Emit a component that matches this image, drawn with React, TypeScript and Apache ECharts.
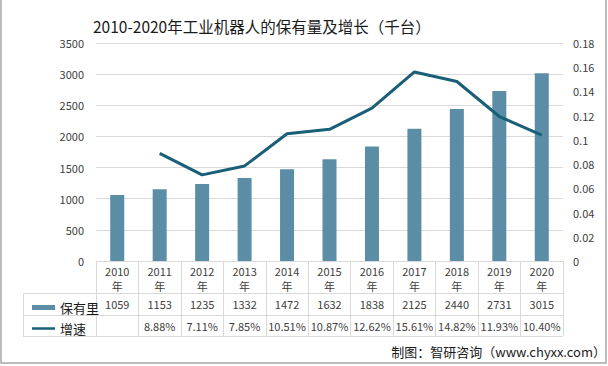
import React, { useEffect, useRef } from "react";
import * as echarts from "echarts";

const years = ["2010", "2011", "2012", "2013", "2014", "2015", "2016", "2017", "2018", "2019", "2020"];
const stock = [1059, 1153, 1235, 1332, 1472, 1632, 1838, 2125, 2440, 2731, 3015];
const growthPct = [null, 8.88, 7.11, 7.85, 10.51, 10.87, 12.62, 15.61, 14.82, 11.93, 10.4];
const leftTicks = { min: 0, max: 3500, interval: 500 };
const rightTicks = { min: 0, max: 0.18, interval: 0.02 };
const titleText = "2010-2020年工业机器人的保有量及增长（千台）";
const sourceText = "制图：智研咨询（www.chyxx.com）";
const stockName = "保有里";
const growthName = "增速";

const FONT = "'Noto Sans CJK SC', 'Noto Sans', sans-serif";
const BAR = "#5B8EA6";
const LINE = "#1A5F78";
const GRID = "#D9D9D9";
const TXT = "#404040";
const LINE_ICON = "path://M0,0L0.01,0L0,0.01Z M0,1H26V4H0Z M0,5L0.01,5L0,4.99Z";

export default function App() {
  const ref = useRef<HTMLDivElement>(null);
  useEffect(() => {
    if (!ref.current) return;
    const chart = echarts.init(ref.current, null, { renderer: "svg" });
    const gl = 96, gr = 563, gt = 43, gb = 261;
    const growth = growthPct.map((v) => (v == null ? null : v / 100));
    chart.setOption({
      animation: false,
      textStyle: { fontFamily: FONT },
      title: {
        text: titleText,
        left: 88,
        top: 13,
        textStyle: { fontSize: 15.5, fontWeight: "normal", color: "#1a1a1a", fontFamily: FONT },
      },
      legend: {
        orient: "vertical",
        left: 27,
        top: 296,
        itemGap: 8,
        itemWidth: 23,
        itemHeight: 5,
        textStyle: { fontSize: 13, color: "#1a1a1a", fontFamily: FONT },
        data: [
          { name: stockName, icon: "rect" },
          { name: growthName, icon: LINE_ICON, itemStyle: { color: LINE } },
        ],
      },
      grid: { left: gl, right: 608 - gr, top: gt, bottom: 366 - gb },
      xAxis: [
        {
          type: "category",
          data: years,
          position: "bottom",
          axisLine: { show: true, lineStyle: { color: GRID } },
          axisTick: { show: true, length: 75, interval: 0, lineStyle: { color: GRID } },
          axisLabel: {
            interval: 0,
            margin: 2,
            fontSize: 11,
            lineHeight: 15,
            color: TXT,
            formatter: (v: string) => v + "\n年",
          },
        },
        {
          type: "category",
          data: years,
          position: "bottom",
          offset: 28,
          axisLine: { show: false },
          axisTick: { show: false },
          axisLabel: {
            interval: 0,
            margin: 8,
            fontSize: 11,
            lineHeight: 14,
            color: TXT,
            formatter: (_v: string, i: number) => String(stock[i]),
          },
        },
        {
          type: "category",
          data: years,
          position: "bottom",
          offset: 50,
          axisLine: { show: false },
          axisTick: { show: false },
          axisLabel: {
            interval: 0,
            margin: 8,
            fontSize: 11,
            lineHeight: 14,
            color: TXT,
            formatter: (_v: string, i: number) =>
              growthPct[i] == null ? "" : (growthPct[i] as number).toFixed(2) + "%",
          },
        },
      ],
      yAxis: [
        {
          type: "value",
          min: leftTicks.min,
          max: leftTicks.max,
          interval: leftTicks.interval,
          axisLine: { show: false },
          axisTick: { show: false },
          splitLine: { lineStyle: { color: GRID } },
          axisLabel: { fontSize: 11, color: TXT, margin: 12, formatter: (v: number) => String(v) },
        },
        {
          type: "value",
          min: rightTicks.min,
          max: rightTicks.max,
          interval: rightTicks.interval,
          axisLine: { show: false },
          axisTick: { show: false },
          splitLine: { show: false },
          axisLabel: {
            fontSize: 11,
            color: TXT,
            margin: 10,
            formatter: (v: number) => String(+v.toFixed(2)),
          },
        },
      ],
      series: [
        {
          name: stockName,
          type: "bar",
          xAxisIndex: 0,
          yAxisIndex: 0,
          data: stock,
          barWidth: 14,
          itemStyle: { color: BAR },
        },
        {
          name: growthName,
          type: "line",
          xAxisIndex: 0,
          yAxisIndex: 1,
          data: growth,
          symbol: "none",
          lineStyle: { color: LINE, width: 3 },
          itemStyle: { color: LINE },
        },
      ],
      graphic: [
        { type: "line", shape: { x1: 23, y1: 293.5, x2: gr, y2: 293.5 }, style: { stroke: GRID, lineWidth: 1 } },
        { type: "line", shape: { x1: 23, y1: 315.5, x2: gr, y2: 315.5 }, style: { stroke: GRID, lineWidth: 1 } },
        { type: "line", shape: { x1: 23, y1: 336.5, x2: gr, y2: 336.5 }, style: { stroke: GRID, lineWidth: 1 } },
        { type: "line", shape: { x1: 23.5, y1: 293, x2: 23.5, y2: 336.5 }, style: { stroke: GRID, lineWidth: 1 } },
        {
          type: "text",
          x: 606,
          y: 351,
          style: {
            text: sourceText,
            fontSize: 13,
            fontFamily: FONT,
            fill: "#1a1a1a",
            align: "right",
            verticalAlign: "middle",
          },
        },
        {
          type: "rect",
          shape: { x: 1, y: -2, width: 605, height: 365 },
          style: { fill: "none", stroke: "#A6A6A6", lineWidth: 1.5 },
          silent: true,
        },
      ],
    });
    return () => chart.dispose();
  }, []);
  return (
    <div
      ref={ref}
      style={{ position: "fixed", left: 0, top: 0, width: 608, height: 366, background: "#fff" }}
    />
  );
}
